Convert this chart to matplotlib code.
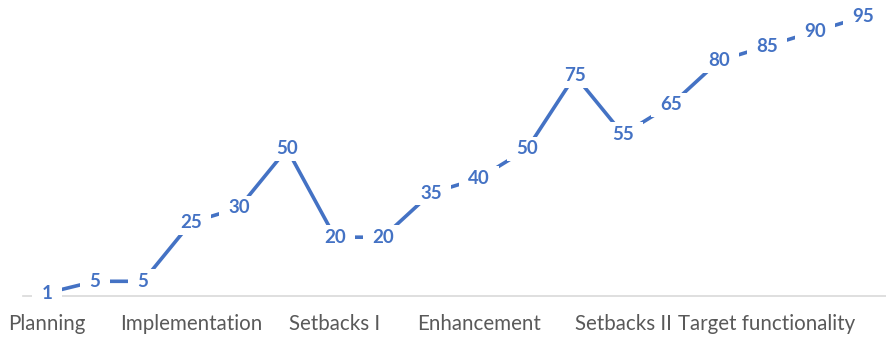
import matplotlib
matplotlib.use("Agg")
import matplotlib.pyplot as plt

values = [1, 5, 5, 25, 30, 50, 20, 20, 35, 40, 50, 75, 55, 65, 80, 85, 90, 95]
categories = ["Planning", "", "", "Implementation", "", "", "Setbacks I", "", "",
              "Enhancement", "", "", "Setbacks II", "", "", "Target functionality", "", ""]

blue = "#4472C4"
fig = plt.figure(figsize=(8.87, 3.38), dpi=100)
ax = fig.add_axes([23/887, (338-296)/338, 864/887, 294/338])
x = list(range(len(values)))
ax.plot(x, values, color=blue, lw=2.6, solid_capstyle="butt", zorder=2)
for xi, v in zip(x, values):
    ax.text(xi, v, str(v), ha="center", va="center", color=blue, fontsize=13.5,
            fontweight="bold", family="Lato",
            bbox=dict(boxstyle="square,pad=0.5", fc="white", ec="none",
                      mutation_aspect=0.4), zorder=3)
ax.set_xlim(-0.5, len(values) - 0.5)
ax.set_ylim(0, 100)
ax.set_yticks([])
ticks = [i for i, c in enumerate(categories) if c]
ax.set_xticks(ticks)
ax.set_xticklabels([categories[i] for i in ticks], fontsize=14.8, color="#595959", family="Lato")
ax.tick_params(axis="x", length=0, pad=13)
for s in ["top", "right", "left"]:
    ax.spines[s].set_visible(False)
ax.spines["bottom"].set_color("#d9d9d9")
ax.spines["bottom"].set_linewidth(1.2)
ax.spines["bottom"].set_zorder(1)
ax.patch.set_alpha(0)
fig.savefig("out.png", dpi=100)
